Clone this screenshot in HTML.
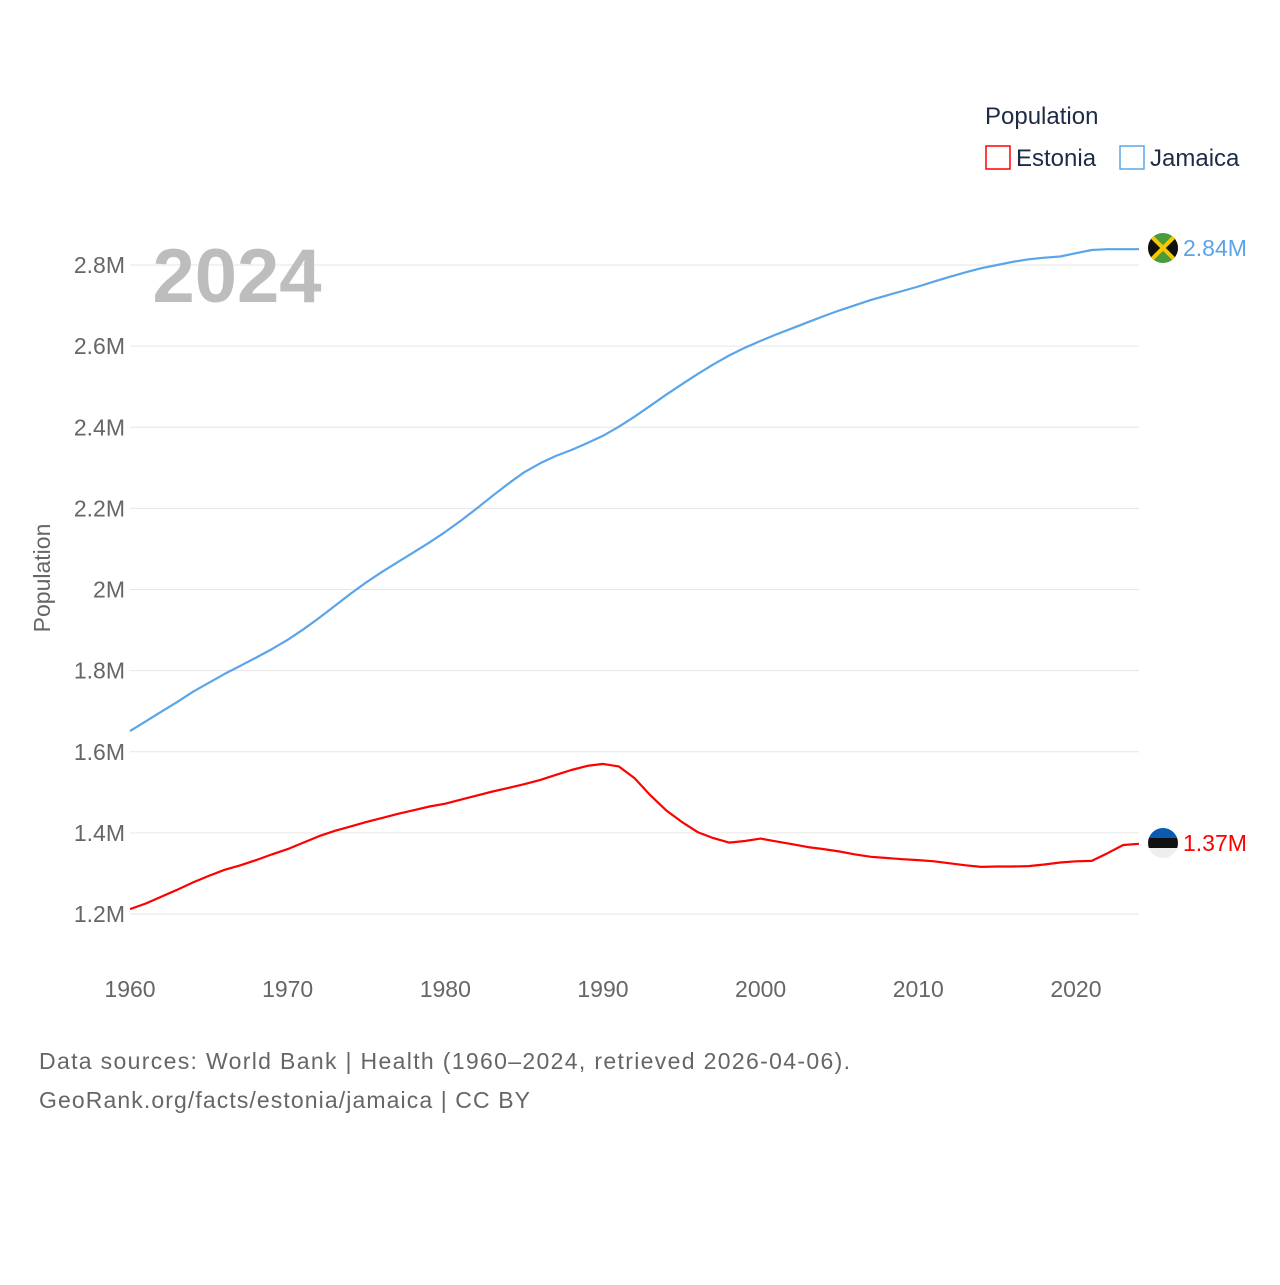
<!DOCTYPE html>
<html><head><meta charset="utf-8"><style>
body{margin:0;background:#fff;font-family:"Liberation Sans",sans-serif}
</style></head><body>
<svg width="1280" height="1280" xmlns="http://www.w3.org/2000/svg" font-family="Liberation Sans, sans-serif">
<defs>
<clipPath id="cj"><circle cx="1163" cy="248" r="15"/></clipPath>
<clipPath id="ce"><circle cx="1163" cy="843" r="15"/></clipPath>
</defs>
<g id="grid"></g>
<g id="yt"></g><g id="xt"></g>
<text x="237" y="302" font-size="76" font-weight="bold" fill="#bdbdbd" text-anchor="middle">2024</text>
<text transform="translate(50,578) rotate(-90)" font-size="23" fill="#666" text-anchor="middle">Population</text>
<g id="lines"></g>
<g clip-path="url(#cj)">
<rect x="1148" y="233" width="30" height="30" fill="#4a9b3a"/>
<polygon points="1148,233 1163,248 1148,263" fill="#111"/><polygon points="1178,233 1163,248 1178,263" fill="#111"/>
<line x1="1148" y1="233" x2="1178" y2="263" stroke="#f5c800" stroke-width="4"/><line x1="1178" y1="233" x2="1148" y2="263" stroke="#f5c800" stroke-width="4"/>
</g>
<g clip-path="url(#ce)">
<rect x="1148" y="828" width="30" height="10" fill="#0a5cb0"/><rect x="1148" y="838" width="30" height="10" fill="#111"/><rect x="1148" y="848" width="30" height="10" fill="#eee"/>
</g>
<text x="1183" y="256" font-size="23" fill="#5aa5ea">2.84M</text>
<text x="1183" y="851" font-size="23" fill="#f00">1.37M</text>
<text x="985" y="124" font-size="24" fill="#1d2b45">Population</text>
<g><rect x="986" y="146" width="24" height="23" fill="none" stroke="#f00" stroke-width="1.5"/><text x="1016" y="166" font-size="24" fill="#1d2b45">Estonia</text></g>
<g><rect x="1120" y="146" width="24" height="23" fill="none" stroke="#5aa5ea" stroke-width="1.5"/><text x="1150" y="166" font-size="24" fill="#1d2b45">Jamaica</text></g>
<text x="39" y="1069" font-size="23" fill="#666" textLength="811">Data sources: World Bank | Health (1960–2024, retrieved 2026-04-06).</text>
<text x="39" y="1108" font-size="23" fill="#666" textLength="491">GeoRank.org/facts/estonia/jamaica | CC BY</text>
</svg>
<script>
const years=[];for(let y=1960;y<=2024;y++)years.push(y);
const jamaica=[1.651,1.675,1.699,1.723,1.748,1.770,1.792,1.812,1.832,1.853,1.876,1.902,1.930,1.960,1.990,2.018,2.044,2.068,2.092,2.116,2.142,2.170,2.200,2.231,2.261,2.289,2.311,2.329,2.344,2.361,2.379,2.401,2.426,2.453,2.480,2.506,2.531,2.555,2.577,2.596,2.613,2.629,2.644,2.659,2.674,2.688,2.701,2.714,2.725,2.736,2.747,2.759,2.771,2.782,2.792,2.800,2.808,2.814,2.818,2.821,2.829,2.837,2.839,2.839,2.839];
const estonia=[1.212,1.226,1.243,1.260,1.278,1.294,1.309,1.320,1.333,1.347,1.360,1.376,1.392,1.405,1.416,1.427,1.437,1.447,1.456,1.465,1.472,1.482,1.492,1.502,1.511,1.520,1.530,1.543,1.555,1.565,1.570,1.564,1.535,1.493,1.456,1.427,1.402,1.387,1.376,1.380,1.386,1.379,1.372,1.365,1.360,1.354,1.347,1.341,1.338,1.335,1.333,1.330,1.325,1.320,1.316,1.317,1.317,1.318,1.322,1.327,1.330,1.331,1.350,1.370,1.373];
const yTicks=[1.2,1.4,1.6,1.8,2.0,2.2,2.4,2.6,2.8];
const yTickLabels=["1.2M","1.4M","1.6M","1.8M","2M","2.2M","2.4M","2.6M","2.8M"];
const xTicks=[1960,1970,1980,1990,2000,2010,2020];
const NS="http://www.w3.org/2000/svg";
const xs=y=>130+(y-1960)*(1139-130)/64;
const ys=v=>914-(v-1.2)*(914-265)/1.6;
function mk(t,a,p){const e=document.createElementNS(NS,t);for(const k in a)e.setAttribute(k,a[k]);p.appendChild(e);return e;}
const grid=document.getElementById('grid'),yt=document.getElementById('yt'),xt=document.getElementById('xt'),lines=document.getElementById('lines');
yTicks.forEach((v,i)=>{
 const l=mk('line',{x1:130,x2:1139,y1:ys(v),y2:ys(v),stroke:'#e6e6e6','stroke-width':1},grid);
 
 
 const t=mk('text',{x:125,y:ys(v)+8,'font-size':23,fill:'#666','text-anchor':'end'},yt);t.textContent=yTickLabels[i];
 
 
});
xTicks.forEach(y=>{
 const t=mk('text',{x:xs(y),y:997,'font-size':23,fill:'#666','text-anchor':'middle'},xt);t.textContent=y;
 
 
});
function line(data,color,name){
 const d=data.map((v,i)=>(i?'L':'M')+xs(years[i]).toFixed(1)+','+ys(v).toFixed(1)).join('');
 const p=mk('path',{d:d,fill:'none',stroke:color,'stroke-width':2.2,'stroke-linejoin':'round'},lines);
 
 
}
line(jamaica,'#5aa5ea','jamaica-line');
line(estonia,'#f00','estonia-line');
</script>
</body></html>
